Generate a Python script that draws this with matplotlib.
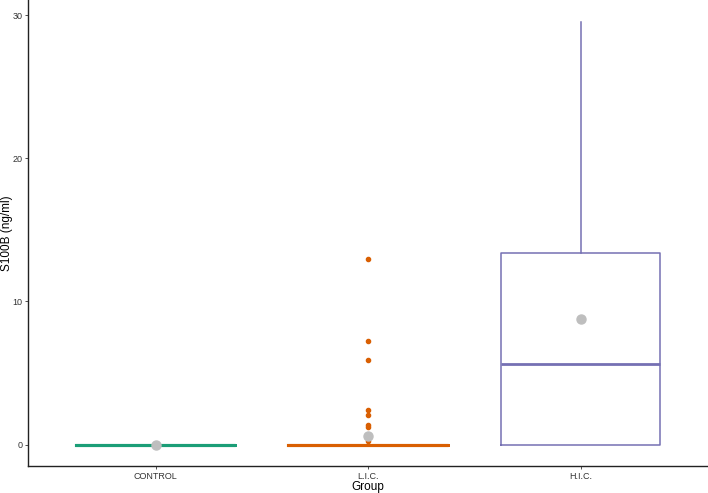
import matplotlib
matplotlib.use("Agg")
import matplotlib.pyplot as plt

plt.rcParams["font.family"] = ["Liberation Sans", "DejaVu Sans"]

# groups and box summary values
groups = ["CONTROL", "L.I.C.", "H.I.C."]
colors = ["#1B9E77", "#D95F02", "#7570B3"]
q1 = [0, 0, 0]
medians = [0, 0, 5.6]
q3 = [0, 0, 13.35]
whisk_lo = [0, 0, 0]
whisk_hi = [0, 0, 29.5]
means = [0, 0.58, 8.8]
lic_outliers = [12.95, 7.2, 5.87, 2.38, 2.03, 1.33, 1.21, 0.28]
outliers = [[], lic_outliers, []]

fig = plt.figure(figsize=(7.08, 4.93), dpi=100)
ax = fig.add_axes([28 / 708, 27 / 493, 680 / 708, 466 / 493])

for i, g in enumerate(groups):
    st = dict(med=medians[i], q1=q1[i], q3=q3[i], whislo=whisk_lo[i],
              whishi=whisk_hi[i], fliers=outliers[i], label=g)
    collapsed = q3[i] == q1[i]
    lw = 2.2 if collapsed else 1.1
    ax.bxp([st], positions=[i + 1], widths=0.75, showcaps=False,
           boxprops=dict(color=colors[i], linewidth=lw),
           whiskerprops=dict(color=colors[i], linewidth=1.1),
           medianprops=dict(color=colors[i], linewidth=lw if collapsed else 2.0),
           flierprops=dict(marker="o", markerfacecolor=colors[i],
                           markeredgecolor=colors[i], markersize=3),
           manage_ticks=False)
    ax.plot(i + 1, means[i], "o", color="#BEBEBE", markersize=6.5, zorder=5)

ax.set_xlim(0.4, 3.6)
ax.set_ylim(-1.5, 31.05)
ax.set_xticks([1, 2, 3])
ax.set_xticklabels(groups)
ax.set_yticks([0, 10, 20, 30])
ax.tick_params(labelsize=6.5, colors="#333333", length=2.5, width=0.6, pad=1.5)
for s in ["top", "right"]:
    ax.spines[s].set_visible(False)
for s in ["left", "bottom"]:
    ax.spines[s].set_linewidth(1.0)
    ax.spines[s].set_color("#222222")
ax.set_xlabel("Group", fontsize=8.5)
ax.set_ylabel("S100B (ng/ml)", fontsize=8.5)
ax.xaxis.set_label_coords(0.5, -0.033)
ax.yaxis.set_label_coords(-0.022, 0.5)

fig.savefig("out.png", dpi=100)
